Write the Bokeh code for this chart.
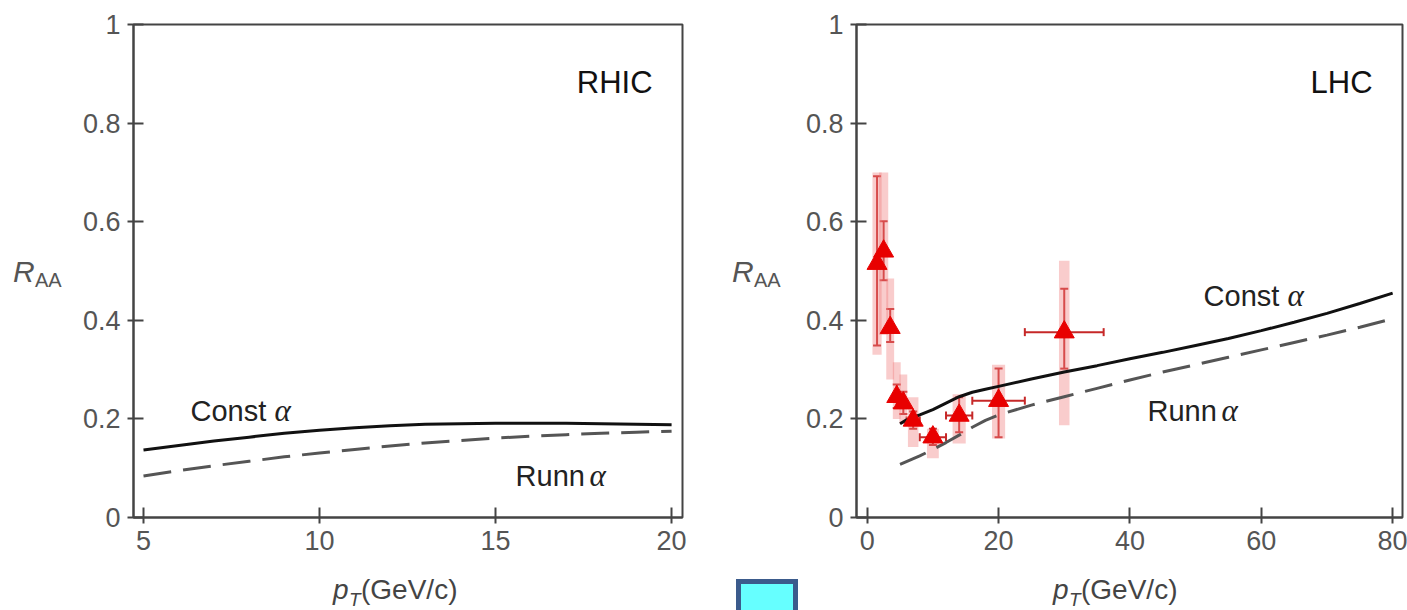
from bokeh.plotting import figure
from bokeh.models import (Label, Whisker, TeeHead, FixedTicker, Div,
                          ColumnDataSource, Range1d, GridBox)
from bokeh.embed import file_html
from bokeh.resources import INLINE

# ---------------- data ----------------
rhic_pt = [5, 6, 7, 8, 9, 10, 11, 12, 13, 14, 15, 16, 17, 18, 19, 20]
rhic_const = [0.137, 0.146, 0.155, 0.163, 0.171, 0.177, 0.182, 0.186, 0.189,
              0.190, 0.191, 0.191, 0.191, 0.190, 0.189, 0.188]
rhic_runn = [0.084, 0.095, 0.105, 0.114, 0.123, 0.131, 0.138, 0.145, 0.151,
             0.156, 0.161, 0.165, 0.168, 0.171, 0.173, 0.175]

lhc_const_pt = [5, 6, 8, 10, 12, 14, 16, 18, 20, 25, 30, 35, 40, 45, 50, 55, 60, 65, 70, 75, 80]
lhc_const = [0.19, 0.198, 0.208, 0.219, 0.232, 0.245, 0.254, 0.26, 0.266, 0.281, 0.295,
             0.308, 0.322, 0.335, 0.349, 0.363, 0.379, 0.396, 0.414, 0.434, 0.455]
lhc_runn_pt = [5, 8, 10, 12, 14, 16, 18, 20, 25, 30, 35, 40, 45, 50, 55, 60, 65, 70, 75, 80]
lhc_runn = [0.108, 0.125, 0.138, 0.152, 0.167, 0.183, 0.197, 0.208, 0.228, 0.245, 0.262,
            0.279, 0.295, 0.31, 0.325, 0.34, 0.355, 0.37, 0.386, 0.403]

data_pt = [1.5, 2.5, 3.5, 4.5, 5.5, 7, 10, 14, 20, 30]
data_raa = [0.515, 0.54, 0.385, 0.245, 0.232, 0.197, 0.163, 0.207, 0.237, 0.376]
data_pt_lo = [1.0, 2.0, 3.0, 4.0, 5.0, 6.0, 8, 12, 16, 24]
data_pt_hi = [2.0, 3.0, 4.0, 5.0, 6.0, 8.0, 12, 16, 24, 36]
data_stat_lo = [0.349, 0.481, 0.356, 0.222, 0.21, 0.18, 0.147, 0.173, 0.163, 0.302]
data_stat_hi = [0.692, 0.601, 0.423, 0.27, 0.255, 0.215, 0.18, 0.244, 0.302, 0.464]
data_sys_lo = [0.33, 0.37, 0.28, 0.2, 0.19, 0.143, 0.12, 0.15, 0.16, 0.187]
data_sys_hi = [0.70, 0.70, 0.485, 0.315, 0.29, 0.244, 0.18, 0.25, 0.31, 0.521]
sys_halfwidth = [0.7, 0.7, 0.6, 0.6, 0.6, 0.8, 0.9, 1.0, 1.0, 0.8]

y_ticks = [0, 0.2, 0.4, 0.6, 0.8, 1]
rhic_x_ticks = [5, 10, 15, 20]
lhc_x_ticks = [0, 20, 40, 60, 80]

SANS = "Liberation Sans"
SERIF = "Liberation Serif"
DASH = "28 12"


def make_fig(xr, width, left, right):
    p = figure(width=width, height=610, x_range=Range1d(*xr), y_range=Range1d(0, 1),
               output_backend="svg", toolbar_location=None,
               min_border_left=left, min_border_right=right,
               min_border_top=24, min_border_bottom=93)
    p.grid.visible = False
    p.background_fill_color = "white"
    p.border_fill_color = "white"
    p.outline_line_color = "#444444"
    p.outline_line_width = 2
    p.outline_line_alpha = 1
    for ax in p.axis:
        ax.axis_line_color = "#444444"
        ax.axis_line_width = 2
        ax.major_tick_line_color = "#444444"
        ax.major_tick_line_width = 2
        ax.major_tick_in = 10
        ax.major_tick_out = 6
        ax.minor_tick_line_color = None
        ax.major_label_text_font = SANS
        ax.major_label_text_font_size = "27px"
        ax.major_label_text_color = "#555555"
    p.yaxis.ticker = FixedTicker(ticks=y_ticks)
    p.yaxis.major_label_overrides = {0: "0", 1: "1"}
    p.yaxis.major_label_standoff = 7
    p.xaxis.major_label_standoff = 7
    return p


def txt(p, x, y, s, size, color="#222222", font=SANS, style="normal",
        align="left", xo=0, yo=0):
    p.add_layout(Label(x=x, y=y, text=s, text_font=font, text_font_size=size,
                       text_font_style=style, text_color=color, text_align=align,
                       text_baseline="alphabetic", x_offset=xo, y_offset=yo))


# ---------------- left: RHIC ----------------
p1 = make_fig((4.716, 20.31), 700, 133, 18)
p1.xaxis.ticker = FixedTicker(ticks=rhic_x_ticks)
p1.line(rhic_pt, rhic_const, line_color="#111111", line_width=3)
p1.line(rhic_pt, rhic_runn, line_color="#555555", line_width=3, line_dash=DASH)

lx = lambda px: 5 + (px - 143) / 35.2
ry = lambda py: (517 - py) / 493.0

txt(p1, lx(652), ry(82), "RHIC", "31px", color="#111111", align="right")
txt(p1, lx(190), ry(410), "Const", "29px")
txt(p1, lx(190), ry(410), "\u03b1", "31px", font=SERIF, style="italic", xo=84)
txt(p1, lx(515), ry(475), "Runn", "29px")
txt(p1, lx(515), ry(475), "\u03b1", "31px", font=SERIF, style="italic", xo=74)

# ---------------- right: LHC ----------------
p2 = make_fig((-1.63, 81.5), 707, 156, 5)
p2.xaxis.ticker = FixedTicker(ticks=lhc_x_ticks)

rx = lambda px: (px - 866.7) / 6.567

src = ColumnDataSource(dict(
    x=data_pt, y=data_raa, xlo=data_pt_lo, xhi=data_pt_hi,
    slo=data_stat_lo, shi=data_stat_hi, ylo=data_sys_lo, yhi=data_sys_hi,
    bl=[a - b for a, b in zip(data_pt, sys_halfwidth)],
    br=[a + b for a, b in zip(data_pt, sys_halfwidth)],
))
p2.quad(left="bl", right="br", bottom="ylo", top="yhi", source=src,
        fill_color="#f08080", fill_alpha=0.4, line_color=None)
p2.line(lhc_const_pt, lhc_const, line_color="#111111", line_width=3)
p2.line(lhc_runn_pt, lhc_runn, line_color="#555555", line_width=3, line_dash=DASH)

ecol = "#c62828"
p2.add_layout(Whisker(source=src, base="x", lower="slo", upper="shi", dimension="height",
                      line_color=ecol, line_width=2,
                      lower_head=TeeHead(size=8, line_color=ecol, line_width=2),
                      upper_head=TeeHead(size=8, line_color=ecol, line_width=2)))
p2.add_layout(Whisker(source=src, base="y", lower="xlo", upper="xhi", dimension="width",
                      line_color=ecol, line_width=2,
                      lower_head=TeeHead(size=8, line_color=ecol, line_width=2),
                      upper_head=TeeHead(size=8, line_color=ecol, line_width=2)))
p2.scatter("x", "y", source=src, marker="triangle", size=20,
           fill_color="#e80000", line_color="#e80000")

txt(p2, rx(1372), ry(82), "LHC", "31px", color="#111111", align="right")
txt(p2, rx(1203), ry(295), "Const", "29px")
txt(p2, rx(1203), ry(295), "\u03b1", "31px", font=SERIF, style="italic", xo=84)
txt(p2, rx(1147), ry(410), "Runn", "29px")
txt(p2, rx(1147), ry(410), "\u03b1", "31px", font=SERIF, style="italic", xo=74)

# ---------------- HTML overlay for texts outside the plot frames ----------------
def span(left, baseline, s, size, color, italic=False):
    top = baseline - 0.8465 * size
    st = "font-style:italic;" if italic else ""
    return (f'<span style="position:absolute;left:{left}px;top:{top:.1f}px;'
            f"font-family:'{SANS}';font-size:{size}px;line-height:1;"
            f'white-space:nowrap;color:{color};{st}">{s}</span>')

parts = []
for ox, xo in ((0, 0), (719, 720)):
    parts.append(span(13 + ox, 282, "R", 30, "#555555", True))
    parts.append(span(35 + ox, 287, "AA", 20, "#555555"))
    parts.append(span(333 + xo, 600, "p", 28, "#444444", True))
    parts.append(span(349 + xo, 606, "T", 19, "#444444", True))
    parts.append(span(361 + xo, 600, "(GeV/c)", 28, "#444444"))
parts.append('<div style="position:absolute;left:736px;top:579px;width:62px;height:31px;'
             'box-sizing:border-box;border:5px solid #3b5b8c;border-bottom:none;'
             'background:#66ffff;"></div>')
html = ('<div style="position:relative;width:1407px;height:610px;overflow:hidden;">'
        + "".join(parts) + "</div>")
overlay = Div(text=html, width=1407, height=610, margin=0)

layout = GridBox(children=[(p1, 0, 0), (p2, 0, 1), (overlay, 0, 0, 1, 2)], spacing=0)
open("out.html", "w").write(file_html(layout, INLINE))
